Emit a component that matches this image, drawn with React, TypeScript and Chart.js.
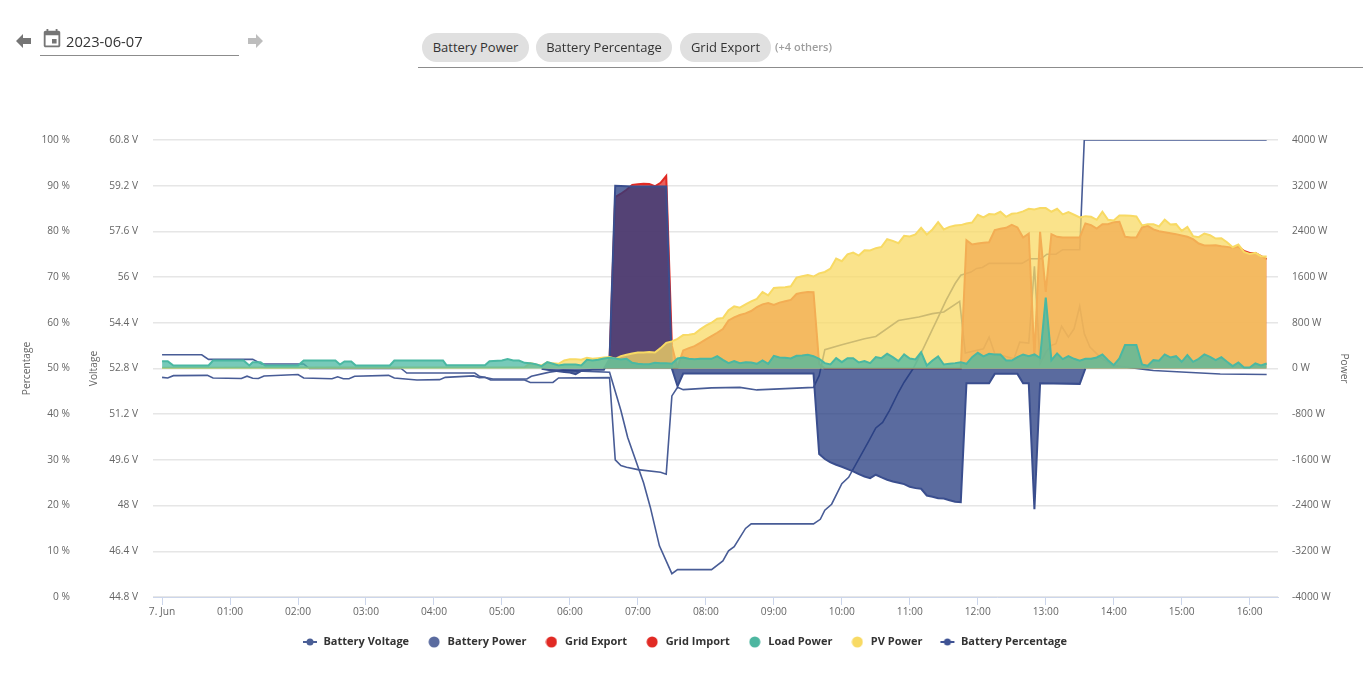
import React, { useEffect, useRef } from "react";
import { Chart, registerables } from "chart.js";

Chart.register(...registerables);

// minutes after midnight on 7 June
const xTickMinutes = [0, 60, 120, 180, 240, 300, 360, 420, 480, 540, 600, 660, 720, 780, 840, 900, 960];
const xTickLabels = ["7. Jun", "01:00", "02:00", "03:00", "04:00", "05:00", "06:00", "07:00", "08:00", "09:00", "10:00", "11:00", "12:00", "13:00", "14:00", "15:00", "16:00"];

const percentTicks = [0, 10, 20, 30, 40, 50, 60, 70, 80, 90, 100];
const percentTickLabels = ["0 %", "10 %", "20 %", "30 %", "40 %", "50 %", "60 %", "70 %", "80 %", "90 %", "100 %"];
const voltageTicks = [44.8, 46.4, 48, 49.6, 51.2, 52.8, 54.4, 56, 57.6, 59.2, 60.8];
const voltageTickLabels = ["44.8 V", "46.4 V", "48 V", "49.6 V", "51.2 V", "52.8 V", "54.4 V", "56 V", "57.6 V", "59.2 V", "60.8 V"];
const powerTicks = [-4000, -3200, -2400, -1600, -800, 0, 800, 1600, 2400, 3200, 4000];
const powerTickLabels = ["-4000 W", "-3200 W", "-2400 W", "-1600 W", "-800 W", "0 W", "800 W", "1600 W", "2400 W", "3200 W", "4000 W"];

const pvTimes = [0, 320, 325, 330, 335, 340, 345, 350, 355, 360, 365, 370, 375, 380, 385, 390, 395, 400, 405, 410, 415, 420, 425, 430, 435, 440, 445, 450, 455, 460, 465, 470, 475, 480, 485, 490, 495, 500, 505, 510, 515, 520, 525, 530, 535, 540, 545, 550, 555, 560, 565, 570, 575, 580, 585, 590, 595, 600, 605, 610, 615, 620, 625, 630, 635, 640, 645, 650, 655, 660, 665, 670, 675, 680, 685, 690, 695, 700, 705, 710, 715, 720, 725, 730, 735, 740, 745, 750, 755, 760, 765, 770, 775, 780, 785, 790, 795, 800, 805, 810, 815, 820, 825, 830, 835, 840, 845, 850, 855, 860, 865, 870, 875, 880, 885, 890, 895, 900, 905, 910, 915, 920, 925, 930, 935, 940, 945, 950, 955, 960, 965, 970, 975];
const pvValues = [15, 20, 94, 70, 53, 110, 90, 82, 140, 164, 164, 152, 187, 170, 181, 193, 199, 170, 217, 240, 263, 281, 281, 287, 281, 357, 450, 474, 520, 585, 590, 608, 684, 749, 801, 872, 883, 1018, 1088, 1065, 1123, 1176, 1217, 1340, 1281, 1410, 1416, 1422, 1439, 1591, 1615, 1638, 1610, 1665, 1690, 1749, 1925, 1878, 2000, 2030, 1977, 2071, 2065, 2106, 2129, 2264, 2235, 2194, 2322, 2311, 2346, 2463, 2346, 2434, 2562, 2434, 2480, 2504, 2510, 2539, 2556, 2691, 2644, 2703, 2697, 2744, 2656, 2709, 2720, 2750, 2796, 2784, 2808, 2808, 2744, 2796, 2697, 2738, 2691, 2644, 2667, 2656, 2603, 2744, 2603, 2591, 2679, 2679, 2673, 2662, 2504, 2527, 2527, 2486, 2604, 2521, 2527, 2410, 2480, 2317, 2299, 2363, 2334, 2275, 2281, 2211, 2123, 2170, 2041, 2006, 2024, 1966, 1960];

const exportTimes = [450, 455, 460, 465, 470, 475, 480, 485, 490, 495, 500, 505, 510, 515, 520, 525, 530, 535, 540, 545, 550, 555, 560, 565, 570, 575, 580, 585, 705, 710, 715, 720, 725, 730, 735, 740, 745, 750, 755, 760, 765, 770, 775, 780, 785, 790, 795, 800, 805, 810, 815, 820, 825, 830, 835, 840, 845, 850, 855, 860, 865, 870, 875, 880, 885, 890, 895, 900, 905, 910, 915, 920, 925, 930, 935, 940, 945, 950, 955, 960, 965, 970, 975];
const exportValues = [0, 20, 316, 357, 392, 450, 509, 567, 626, 690, 842, 895, 936, 965, 1006, 1076, 1123, 1147, 1112, 1153, 1176, 1200, 1305, 1328, 1340, 1334, 80, 0, 0, 2246, 2170, 2188, 2200, 2211, 2422, 2445, 2463, 2515, 2469, 2293, 2363, 199, 2393, 1340, 2352, 2305, 2293, 2293, 2293, 2293, 2539, 2510, 2451, 2527, 2527, 2562, 2568, 2305, 2293, 2293, 2469, 2498, 2434, 2404, 2387, 2369, 2352, 2328, 2305, 2264, 2188, 2153, 2153, 2159, 2141, 2129, 2112, 2129, 2059, 2024, 2024, 1966, 1913];

const importTimes = [390, 395, 400, 405, 410, 415, 420, 425, 430, 435, 440, 445, 450, 455];
const importValues = [0, 150, 3000, 3060, 3130, 3215, 3225, 3235, 3230, 3190, 3250, 3370, 400, 0];

const batteryTimes = [335, 340, 345, 350, 355, 360, 365, 370, 375, 380, 385, 390, 395, 400, 405, 410, 415, 420, 425, 430, 435, 440, 445, 450, 455, 460, 570, 575, 580, 585, 590, 595, 600, 605, 610, 615, 620, 625, 630, 635, 640, 645, 650, 655, 660, 665, 670, 675, 680, 685, 690, 695, 700, 705, 710, 730, 735, 755, 760, 765, 770, 775, 810, 815];
const batteryValues = [-5, -20, -35, -50, -60, -70, -100, -40, -30, -20, -20, -20, 170, 3200, 3195, 3190, 3185, 3185, 3185, 3185, 3185, 3185, 3185, 0, -310, -88, -88, -88, -1498, -1585, -1644, -1685, -1720, -1761, -1802, -1849, -1890, -1919, -1860, -1907, -1948, -1977, -2001, -2024, -2071, -2094, -2106, -2223, -2246, -2270, -2276, -2305, -2334, -2340, -257, -257, -94, -94, -257, -257, -2463, -257, -269, 0];

const loadTimes = [0, 5, 10, 41, 45, 72, 77, 80, 87, 91, 120, 125, 153, 157, 161, 167, 171, 201, 205, 248, 251, 285, 289, 300, 305, 310, 315, 320, 325, 330, 335, 340, 345, 350, 355, 360, 365, 370, 375, 380, 385, 390, 395, 400, 405, 410, 415, 420, 425, 430, 435, 440, 445, 450, 455, 460, 465, 470, 475, 480, 485, 490, 495, 500, 505, 510, 515, 520, 525, 530, 535, 540, 545, 550, 555, 560, 565, 570, 575, 580, 585, 590, 595, 600, 605, 610, 615, 620, 625, 630, 635, 640, 645, 650, 655, 660, 665, 670, 675, 680, 685, 690, 695, 700, 705, 710, 715, 720, 725, 730, 735, 740, 745, 750, 755, 760, 765, 770, 775, 780, 785, 790, 795, 800, 805, 810, 815, 820, 825, 830, 835, 840, 845, 850, 855, 860, 865, 870, 875, 880, 885, 890, 895, 900, 905, 910, 915, 920, 925, 930, 935, 940, 945, 950, 955, 960, 965, 970, 975];
const loadValues = [129, 129, 53, 53, 140, 140, 53, 111, 111, 53, 53, 140, 140, 70, 123, 123, 53, 53, 140, 140, 58, 58, 129, 140, 164, 140, 140, 99, 94, 76, 41, 111, 82, 53, 70, 70, 70, 53, 152, 140, 152, 175, 187, 175, 158, 170, 99, 82, 76, 76, 99, 94, 94, 82, 175, 193, 170, 164, 170, 170, 170, 216, 152, 94, 129, 94, 111, 105, 82, 140, 82, 222, 193, 187, 175, 222, 228, 240, 216, 170, 94, 70, 181, 111, 181, 181, 105, 129, 94, 199, 181, 257, 199, 129, 246, 175, 158, 287, 53, 140, 211, 70, 82, 94, 111, 82, 199, 275, 211, 257, 246, 246, 140, 140, 199, 246, 216, 246, 187, 1240, 146, 263, 164, 216, 170, 135, 170, 170, 193, 246, 146, 58, 175, 410, 410, 410, 70, 47, 146, 135, 246, 193, 216, 117, 234, 117, 170, 246, 205, 146, 199, 117, 41, 105, 18, 18, 88, 53, 88];

const voltageTimes = [0, 5, 10, 40, 45, 70, 75, 80, 85, 90, 120, 125, 150, 155, 160, 165, 170, 200, 205, 225, 245, 250, 275, 280, 285, 290, 320, 325, 345, 350, 395, 400, 405, 410, 420, 440, 445, 450, 455, 460, 485, 510, 525, 575, 580, 585, 600, 620, 630, 650, 668, 680, 690, 704, 709, 725, 730, 735, 752, 757, 765, 770, 775, 780, 785, 789, 794, 800, 805, 810, 814, 819, 828, 839, 857, 869, 875, 904, 934, 975];
const voltageValues = [52.49, 52.47, 52.55, 52.56, 52.47, 52.45, 52.53, 52.46, 52.45, 52.54, 52.59, 52.47, 52.44, 52.51, 52.44, 52.44, 52.53, 52.56, 52.47, 52.4, 52.41, 52.49, 52.54, 52.48, 52.49, 52.4, 52.4, 52.31, 52.31, 52.47, 52.48, 49.6, 49.4, 49.34, 49.26, 49.17, 49.1, 51.84, 52.14, 52.06, 52.12, 52.14, 52.05, 52.14, 52.55, 53.46, 53.63, 53.84, 53.92, 54.48, 54.6, 54.72, 54.78, 55.15, 53.34, 53.49, 53.9, 53.32, 53.14, 53.72, 53.69, 56.38, 52.98, 53.36, 53.61, 53.67, 54.28, 53.9, 54.19, 54.98, 54.02, 53.55, 53.2, 52.91, 52.82, 52.76, 52.73, 52.67, 52.61, 52.59];

const percentTimes = [0, 35, 41, 80, 88, 125, 130, 211, 216, 276, 280, 292, 322, 326, 342, 354, 395, 405, 411, 425, 431, 439, 450, 455, 485, 495, 500, 505, 515, 520, 575, 581, 585, 591, 600, 606, 624, 630, 636, 642, 650, 655, 663, 671, 685, 692, 700, 705, 714, 719, 724, 730, 759, 766, 776, 781, 789, 795, 810, 814, 975];
const percentValues = [53, 53, 52, 52, 51, 51, 50, 50, 49, 49, 48.3, 47.7, 47.7, 48.3, 49.2, 49.6, 49.2, 40.8, 34.9, 25, 19.6, 11.2, 5.1, 6, 6, 7.9, 10.1, 11, 15, 16, 16, 17, 19, 20.3, 24.8, 26.2, 34.2, 37, 38.2, 40.8, 44.8, 47, 50, 53.9, 61.2, 64.9, 68.6, 70.4, 71.1, 71.9, 72.1, 73, 73, 74, 74, 75, 75, 76, 76, 100, 100];

const seriesNames = ["Battery Voltage", "Battery Power", "Grid Export", "Grid Import", "Load Power", "PV Power", "Battery Percentage"];
const chipLabels = ["Battery Power", "Battery Percentage", "Grid Export"];

const zip = (xs: number[], ys: number[]) => xs.map((x, i) => ({ x, y: ys[i] }));

const FONT = "'Open Sans', sans-serif";

function lineSwatch(color: string) {
  const c = document.createElement("canvas");
  c.width = 16;
  c.height = 8;
  const g = c.getContext("2d")!;
  g.strokeStyle = color;
  g.fillStyle = color;
  g.lineWidth = 2;
  g.beginPath();
  g.moveTo(1, 4);
  g.lineTo(15, 4);
  g.stroke();
  g.beginPath();
  g.arc(8, 4, 3.5, 0, Math.PI * 2);
  g.fill();
  return c;
}
function dotSwatch(color: string) {
  const c = document.createElement("canvas");
  c.width = 12;
  c.height = 12;
  const g = c.getContext("2d")!;
  g.fillStyle = color;
  g.beginPath();
  g.arc(6, 6, 5.5, 0, Math.PI * 2);
  g.fill();
  return c;
}

function tickFromList(values: number[], labels: string[]) {
  return {
    afterBuildTicks: (scale: any) => {
      scale.ticks = values.map((value) => ({ value }));
    },
    callback: (v: number) => labels[values.indexOf(v)] ?? "",
  };
}

const tickFont = { family: FONT, size: 10.2 };

export default function App() {
  const ref = useRef<HTMLCanvasElement>(null);
  useEffect(() => {
    const area = (name: string, xs: number[], ys: number[], rgb: string, order: number, line?: string) => ({
      label: name,
      data: zip(xs, ys),
      yAxisID: "power",
      fill: "origin",
      backgroundColor: `rgba(${rgb},0.75)`,
      borderColor: line ?? `rgb(${rgb})`,
      borderWidth: 2,
      pointRadius: 0,
      tension: 0,
      order,
    });
    const lineDs = (name: string, xs: number[], ys: number[], axis: string, order: number) => ({
      label: name,
      data: zip(xs, ys),
      yAxisID: axis,
      fill: false,
      borderColor: "rgb(72,92,150)",
      backgroundColor: "rgb(72,92,150)",
      borderWidth: 1.6,
      pointRadius: 0,
      tension: 0,
      order,
    });
    const swatches = [
      lineSwatch("#4b5f96"),
      dotSwatch("#5a6b9f"),
      dotSwatch("#e12a24"),
      dotSwatch("#e12a24"),
      dotSwatch("#4db6a0"),
      dotSwatch("#f8da64"),
      lineSwatch("#3f5394"),
    ];
    const chart = new Chart(ref.current!, {
      type: "line",
      data: {
        datasets: [
          lineDs(seriesNames[0], voltageTimes, voltageValues, "voltage", 7),
          area(seriesNames[1], batteryTimes, batteryValues, "35,57,127", 4, "rgb(58,78,142)"),
          area(seriesNames[2], exportTimes, exportValues, "225,42,36", 5),
          area(seriesNames[3], importTimes, importValues, "225,42,36", 5),
          area(seriesNames[4], loadTimes, loadValues, "74,184,162", 1),
          area(seriesNames[5], pvTimes, pvValues, "248,218,100", 2),
          lineDs(seriesNames[6], percentTimes, percentValues, "percent", 6),
        ] as any,
      },
      options: {
        responsive: false,
        animation: false,
        devicePixelRatio: 1,
        layout: { padding: { left: 6, top: 140, right: 0, bottom: 15.5 } },
        plugins: {
          tooltip: { enabled: false },
          title: { display: false },
          legend: {
            position: "bottom",
            labels: {
              usePointStyle: true,
              pointStyleWidth: 16,
              padding: 17,
              font: { family: FONT, size: 11, weight: "bold" },
              color: "#333333",
              generateLabels: () =>
                seriesNames.map((text, i) => ({
                  text,
                  pointStyle: swatches[i] as any,
                  fillStyle: "#000",
                  strokeStyle: "#000",
                  lineWidth: 0,
                  hidden: false,
                  datasetIndex: i,
                  fontColor: "#333333",
                })),
            },
          },
        },
        scales: {
          x: {
            type: "linear",
            min: -8,
            max: 985,
            afterBuildTicks: (scale: any) => {
              scale.ticks = xTickMinutes.map((value) => ({ value }));
            },
            afterFit: (scale: any) => {
              scale.height = 22.5;
            },
            ticks: {
              autoSkip: false,
              maxRotation: 0,
              padding: 1,
              color: "#666666",
              font: tickFont,
              callback: (v: any) => xTickLabels[xTickMinutes.indexOf(v)] ?? "",
            },
            border: { color: "#ccd6eb", width: 1 },
            grid: { drawOnChartArea: false, drawTicks: true, tickLength: 8, tickColor: "#ccd6eb" },
          },
          voltage: {
            type: "linear",
            position: "left",
            min: 44.8,
            max: 60.8,
            afterBuildTicks: tickFromList(voltageTicks, voltageTickLabels).afterBuildTicks,
            afterFit: (scale: any) => {
              scale.width = 78;
            },
            title: { display: true, text: "Voltage", color: "#666666", font: tickFont, padding: { top: 13, bottom: 0 } },
            ticks: { padding: 15, color: "#666666", font: tickFont, callback: tickFromList(voltageTicks, voltageTickLabels).callback },
            border: { display: false },
            grid: { drawOnChartArea: false, drawTicks: false },
          },
          percent: {
            type: "linear",
            position: "left",
            min: 0,
            max: 100,
            afterBuildTicks: tickFromList(percentTicks, percentTickLabels).afterBuildTicks,
            afterFit: (scale: any) => {
              scale.width = 69;
            },
            title: { display: true, text: "Percentage", color: "#666666", font: tickFont, padding: { top: 15, bottom: 0 } },
            ticks: { padding: 5, color: "#666666", font: tickFont, callback: tickFromList(percentTicks, percentTickLabels).callback },
            border: { display: false },
            grid: { color: "#e6e6e6", lineWidth: 1.5, drawTicks: false },
          },
          power: {
            type: "linear",
            position: "right",
            min: -4000,
            max: 4000,
            afterBuildTicks: tickFromList(powerTicks, powerTickLabels).afterBuildTicks,
            afterFit: (scale: any) => {
              scale.width = 85;
            },
            title: { display: true, text: "Power", color: "#666666", font: tickFont, padding: { top: 13, bottom: 0 } },
            ticks: { padding: 14, color: "#666666", font: tickFont, callback: tickFromList(powerTicks, powerTickLabels).callback },
            border: { display: false },
            grid: { drawOnChartArea: false, drawTicks: false },
          },
        },
      } as any,
    });
    return () => chart.destroy();
  }, []);

  const chipLeft = [422, 536, 680];
  const chipWidth = [107, 136, 91];
  return (
    <div style={{ position: "fixed", left: 0, top: 0, width: 1363, height: 673, background: "#fff", overflow: "hidden", fontFamily: FONT }}>
      <canvas ref={ref} width={1363} height={673} style={{ position: "absolute", left: 0, top: 0, width: 1363, height: 673 }} />
      <svg width="16" height="14" viewBox="0 0 16 14" style={{ position: "absolute", left: 16, top: 34 }}>
        <path d="M0 7 L7 0 L7 4 L15 4 L15 10 L7 10 L7 14 Z" fill="#757575" />
      </svg>
      <svg width="22" height="22" viewBox="0 0 24 24" style={{ position: "absolute", left: 41, top: 28 }}>
        <path fill="#757575" d="M17 12h-5v5h5v-5zM16 1v2H8V1H6v2H5c-1.11 0-1.99.9-1.99 2L3 19c0 1.1.89 2 2 2h14c1.1 0 2-.9 2-2V5c0-1.1-.9-2-2-2h-1V1h-2zm3 18H5V8h14v11z" />
      </svg>
      <div style={{ position: "absolute", left: 66, top: 30, fontSize: 14.7, lineHeight: "22px", color: "#333" }}>2023-06-07</div>
      <div style={{ position: "absolute", left: 40, top: 55, width: 199, height: 1, background: "#8c8c8c" }} />
      <svg width="16" height="14" viewBox="0 0 16 14" style={{ position: "absolute", left: 248, top: 34 }}>
        <path d="M15 7 L8 0 L8 4 L0 4 L0 10 L8 10 L8 14 Z" fill="#bdbdbd" />
      </svg>
      {chipLabels.map((t, i) => (
        <div
          key={t}
          style={{
            position: "absolute",
            left: chipLeft[i],
            top: 33,
            width: chipWidth[i],
            height: 29,
            borderRadius: 15,
            background: "#e0e0e0",
            color: "#333",
            fontSize: 13,
            lineHeight: "29px",
            textAlign: "center",
            whiteSpace: "nowrap",
          }}
        >
          {t}
        </div>
      ))}
      <div style={{ position: "absolute", left: 775, top: 39, fontSize: 11, lineHeight: "16px", color: "#9e9e9e", fontWeight: 600 }}>(+4 others)</div>
      <div style={{ position: "absolute", left: 418, top: 67, right: 0, height: 1, background: "#8c8c8c" }} />
    </div>
  );
}
